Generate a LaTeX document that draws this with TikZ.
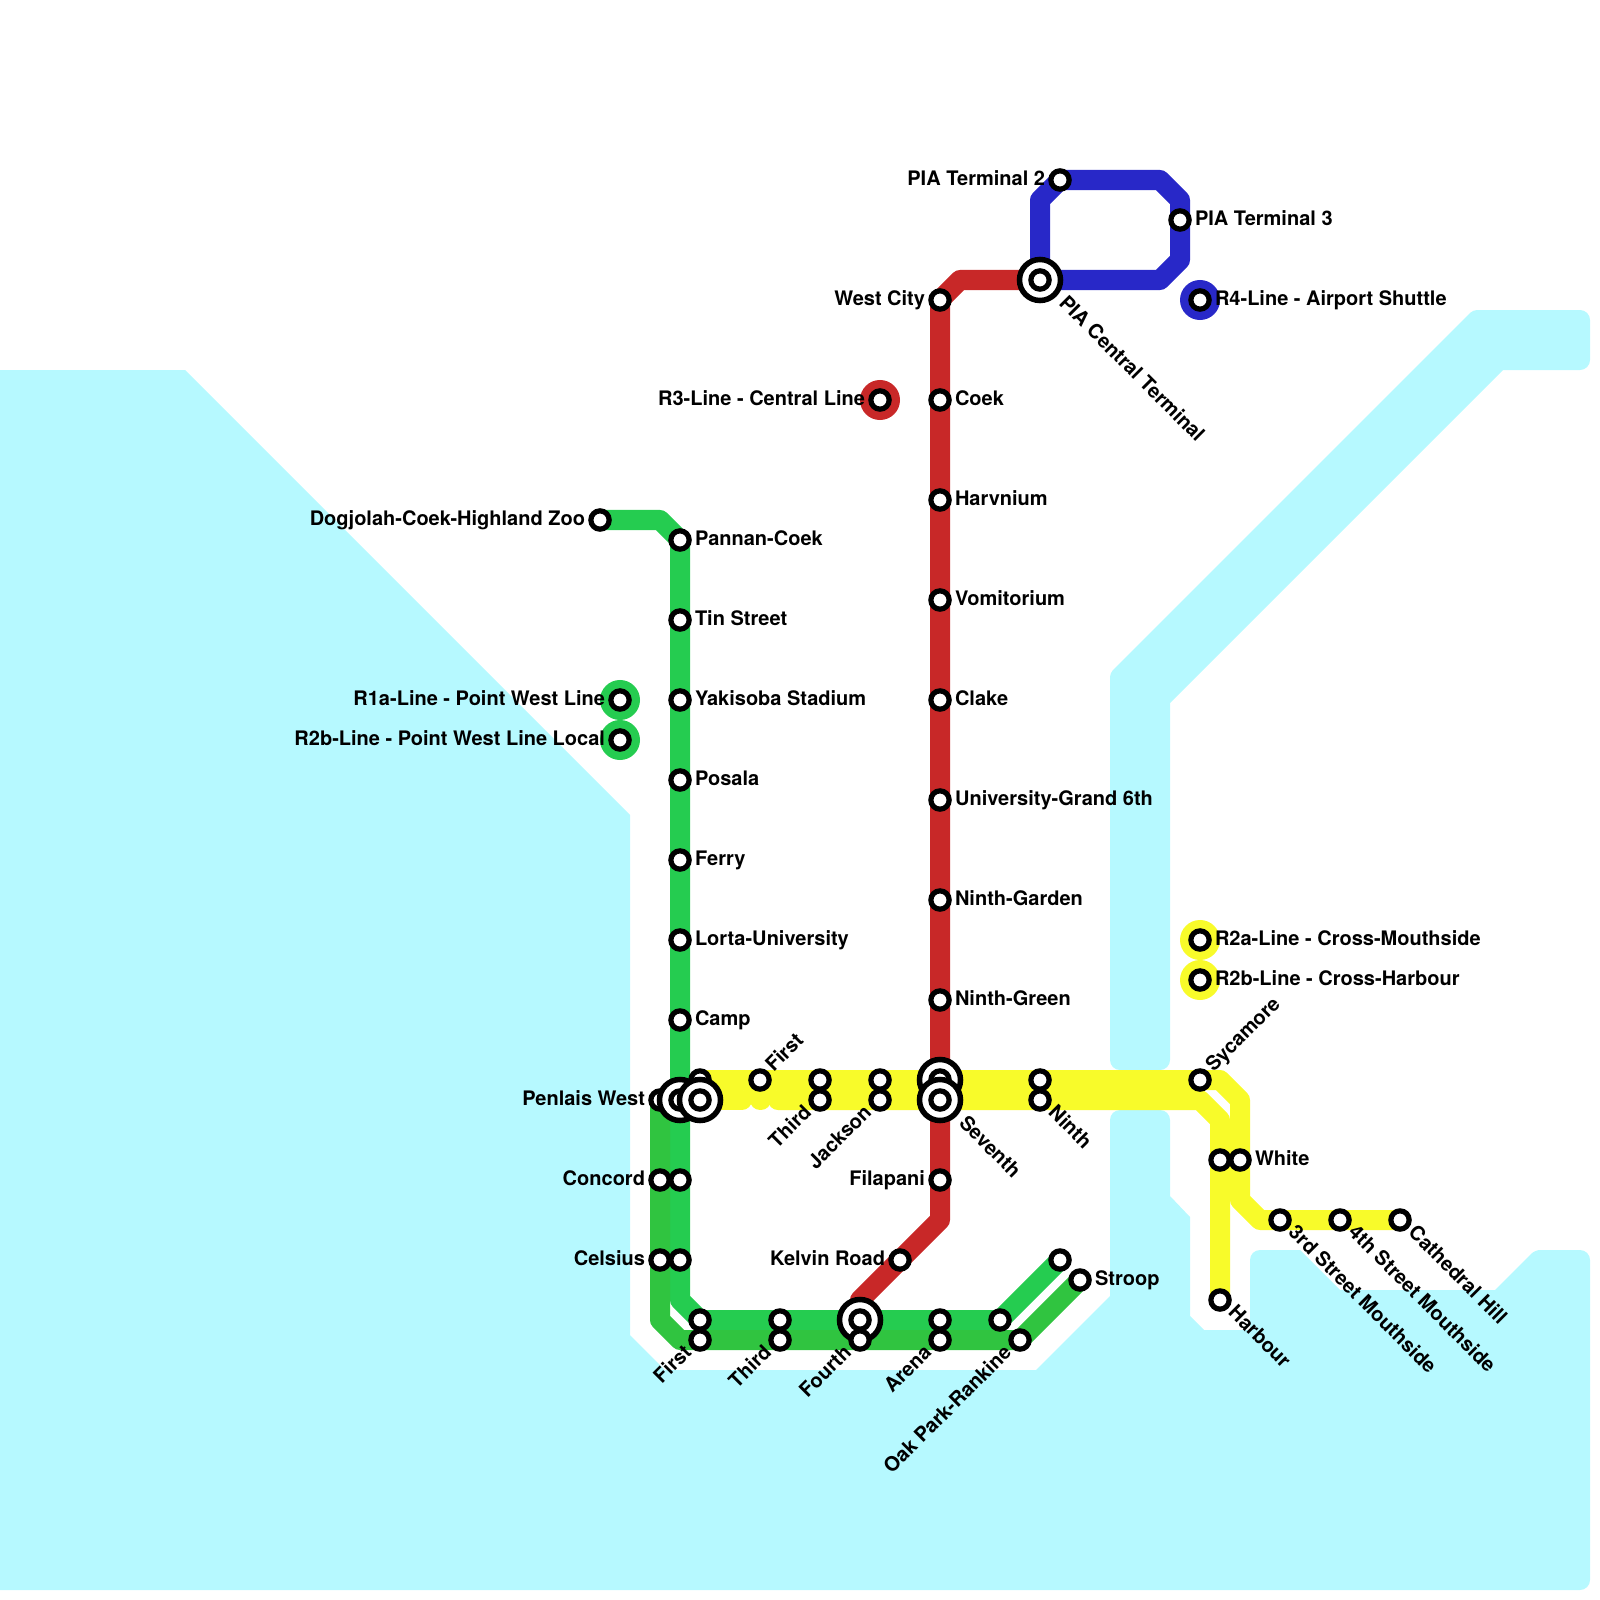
\documentclass[tikz,border=0pt]{standalone}
\usepackage{fontspec}
\setmainfont{TeX Gyre Heros}
\usetikzlibrary{backgrounds}

\definecolor{water}{HTML}{B6F9FF}
\definecolor{lineGreenA}{HTML}{25CC50}
\definecolor{lineGreenB}{HTML}{30C440}
\definecolor{lineYellow}{HTML}{F8FB2A}
\definecolor{lineRed}{HTML}{C82828}
\definecolor{lineBlue}{HTML}{2828C8}

\begin{document}
\begin{tikzpicture}[
    x=0.01cm, y=-0.01cm,
    font=\fontsize{5.69pt}{6.8pt}\selectfont\bfseries,
    stn/.style={circle, draw=black, fill=white, line width=0.052cm, minimum size=0.183cm, inner sep=0pt},
    hub/.style={circle, draw=black, fill=white, line width=0.055cm, minimum size=0.41cm, inner sep=0pt},
    legdot/.style={circle, fill=#1, minimum size=0.4cm, inner sep=0pt},
    lbl/.style={inner sep=0pt, outer sep=0pt},
    lblright/.style={lbl, anchor=base west, xshift=0.15cm, yshift=-0.055cm},
    lblleft/.style={lbl, anchor=base east, xshift=-0.15cm, yshift=-0.055cm},
    lblup/.style={lbl, rotate=45, anchor=base west, xshift=0.15cm, yshift=-0.045cm},
    lbldown/.style={lbl, rotate=45, anchor=base east, xshift=-0.15cm, yshift=-0.045cm},
    lblse/.style={lbl, rotate=-45, anchor=base west, xshift=0.15cm, yshift=-0.045cm},
    metro/.style={line width=0.2cm, line cap=round, line join=round},
    greenA/.style={metro, draw=lineGreenA},
    greenB/.style={metro, draw=lineGreenB},
    yellowline/.style={metro, draw=lineYellow},
    redline/.style={metro, draw=lineRed},
    blueline/.style={metro, draw=lineBlue}
]
\useasboundingbox (0,0) rectangle (1600,1600);

% =========================================================
% Legend dots
% =========================================================
\foreach \st/\x/\y/\col in {legRtwo/880/400/lineRed, legRone/620/700/lineGreenA, legRtb/620/740/lineGreenA,
    legRfour/1200/300/lineBlue, legYa/1200/940/lineYellow, legYb/1200/980/lineYellow} {
    \node[legdot=\col] (\st) at (\x,\y) {};
}

% =========================================================
% Stops without a label
% =========================================================
\foreach \st/\x/\y in {concordB/680/1180, celsiusB/680/1260, firstT/700/1320, thirdT/780/1320,
    arenaT/940/1320, oakT/1000/1320, stroopT/1060/1260, thirdY/820/1080, jacksonY/880/1080,
    ninthY/1040/1080, whiteB/1220/1160} {
    \node[stn] (\st) at (\x,\y) {};
}

% =========================================================
% Labelled stops, by the side of their text
% =========================================================
\foreach \st/\x/\y/\txt in {pannan/680/540/Pannan-Coek, tin/680/620/Tin Street, yakisoba/680/700/Yakisoba Stadium,
    posala/680/780/Posala, ferry/680/860/Ferry, lorta/680/940/Lorta-University, camp/680/1020/Camp,
    stroop/1080/1280/Stroop, coek/940/400/Coek, harvnium/940/500/Harvnium, vomitorium/940/600/Vomitorium,
    clake/940/700/Clake, university/940/800/University-Grand 6th, ninthgarden/940/900/Ninth-Garden,
    ninthgreen/940/1000/Ninth-Green, terminalC/1180/220/PIA Terminal 3, white/1240/1160/White,
    keyRfour/1200/300/R4-Line - Airport Shuttle, keyYa/1200/940/R2a-Line - Cross-Mouthside,
    keyYb/1200/980/R2b-Line - Cross-Harbour} {
    \node[stn] (\st) at (\x,\y) {};
    \node[lblright] (\st-lbl) at (\st.center) {\txt};
}

\foreach \st/\x/\y/\txt in {dogjolah/600/520/Dogjolah-Coek-Highland Zoo, penlais/660/1100/Penlais West,
    concord/660/1180/Concord, celsius/660/1260/Celsius, westcity/940/300/West City, filapani/940/1180/Filapani,
    kelvin/900/1260/Kelvin Road, terminalB/1060/180/PIA Terminal 2, keyRtwo/880/400/R3-Line - Central Line,
    keyRone/620/700/R1a-Line - Point West Line, keyRtb/620/740/R2b-Line - Point West Line Local} {
    \node[stn] (\st) at (\x,\y) {};
    \node[lblleft] (\st-lbl) at (\st.center) {\txt};
}

\foreach \st/\x/\y/\txt in {firstY/760/1080/First, sycamore/1200/1080/Sycamore} {
    \node[stn] (\st) at (\x,\y) {};
    \node[lblup] (\st-lbl) at (\st.center) {\txt};
}

\foreach \st/\x/\y/\txt in {thirdL/820/1100/Third, jackson/880/1100/Jackson, firstB/700/1340/First,
    thirdB/780/1340/Third, arenaB/940/1340/Arena, oakpark/1020/1340/Oak Park-Rankine} {
    \node[stn] (\st) at (\x,\y) {};
    \node[lbldown] (\st-lbl) at (\st.center) {\txt};
}

\foreach \st/\x/\y/\txt in {ninth/1040/1100/Ninth, harbour/1220/1300/Harbour, street/1280/1220/3rd Street Mouthside,
    streetB/1340/1220/4th Street Mouthside, cathedral/1400/1220/Cathedral Hill} {
    \node[stn] (\st) at (\x,\y) {};
    \node[lblse] (\st-lbl) at (\st.center) {\txt};
}

% =========================================================
% Interchanges, back to front
% =========================================================
\node[hub] (penlaisB) at (680,1100) {};
\node[stn] (penlaisB-in) at (penlaisB.center) {};
\node[stn] (firstA) at (700,1080) {};
\node[hub] (firstH) at (700,1100) {};
\node[stn] (firstH-in) at (firstH.center) {};

\node[hub] (fourthT) at (860,1320) {};
\node[stn] (fourthT-in) at (fourthT.center) {};
\node[stn] (fourth) at (860,1340) {};
\node[lbldown] (fourth-lbl) at (fourth.center) {Fourth};

\node[hub] (seventhT) at (940,1080) {};
\node[stn] (seventhT-in) at (seventhT.center) {};
\node[hub] (seventh) at (940,1100) {};
\node[stn] (seventh-in) at (seventh.center) {};
\node[lblse, xshift=0.15cm] (seventh-lbl) at (seventh.center) {Seventh};

\node[hub] (piacentral) at (1040,280) {};
\node[stn] (piacentral-in) at (piacentral.center) {};
\node[lblse, xshift=0.15cm] (piacentral-lbl) at (piacentral.center) {PIA Central Terminal};

% =========================================================
% Water and lines, under the stops
% =========================================================
\begin{pgfonlayer}{background}
\fill[water] (0,370) -- (185,370) -- (630,815) -- (630,1335) -- (665,1370) -- (1036,1370)
    -- (1110,1296) [rounded corners=0.1cm] -- (1110,1110) -- (1170,1110) [sharp corners] -- (1170,1196) -- (1190,1217)
    -- (1190,1316) -- (1204,1330) -- (1250,1330) [rounded corners=0.1cm] -- (1250,1250) [sharp corners] -- (1300,1250)
    -- (1340,1290) -- (1495,1290) [rounded corners=0.05cm] -- (1535,1250) [rounded corners=0.1cm] -- (1590,1250)
    -- (1590,1590) [sharp corners] -- (0,1590) -- cycle;
\fill[water] (1110,1000) [rounded corners=0.04cm] -- (1110,673) -- (1473,310)
    [rounded corners=0.1cm] -- (1590,310) -- (1590,370) [sharp corners] -- (1503,370) -- (1170,703)
    [rounded corners=0.1cm] -- (1170,1070) -- (1110,1070) -- cycle;

% Yellow
\draw[yellowline] (firstA.center) -- (firstY.center) -- (thirdY.center) -- (jacksonY.center) -- (seventhT.center)
    -- (ninthY.center) -- (sycamore.center) -- ++(20,0) -- ++(20,20) -- (white.center) -- ++(0,40) -- ++(20,20)
    -- (street.center) -- (streetB.center) -- (cathedral.center);
\draw[yellowline] (firstH.center) -- ++(42,0);
\draw[yellowline] (firstH.center) ++(60,0) -- ++(1,0);
\draw[yellowline, line width=0.1cm] (firstH.center) ++(44,-5) -- ++(32,0);
\draw[yellowline] (thirdL.center) ++(-42,0) -- (thirdL.center) -- (jackson.center) -- (seventh.center)
    -- (ninth.center) -- ++(160,0) -- (whiteB.center |- 0,1120) -- (whiteB.center) -- (harbour.center);

% Red
\draw[redline] (piacentral.center) -- ++(-80,0) -- (westcity.center) -- (coek.center) -- (harvnium.center)
    -- (vomitorium.center) -- (clake.center) -- (university.center) -- (ninthgarden.center) -- (ninthgreen.center)
    -- (seventhT.center) -- (seventh.center) -- (filapani.center) -- ++(0,40) -- (kelvin.center) -- ++(-40,40)
    -- (fourthT.center);

% Blue
\draw[blueline] (piacentral.center) -- ++(0,-80) -- (terminalB.center) -- ++(100,0) -- ++(20,20)
    -- (terminalC.center) -- ++(0,40) -- ++(-20,20) -- cycle;

% Green
\draw[greenA] (dogjolah.center) -- ++(60,0) -- (pannan.center) -- (tin.center) -- (yakisoba.center) -- (posala.center)
    -- (ferry.center) -- (lorta.center) -- (camp.center) -- (penlaisB.center) -- (concordB.center) -- (celsiusB.center)
    -- ++(0,40) -- (firstT.center) -- (thirdT.center) -- (fourthT.center) -- (arenaT.center) -- (oakT.center)
    -- (stroopT.center);
\draw[greenB] (penlais.center) -- (concord.center) -- (celsius.center) -- ++(0,60) -- ++(20,20) -- (firstB.center)
    -- (thirdB.center) -- (fourth.center) -- (arenaB.center) -- (oakpark.center) -- (stroop.center);
\end{pgfonlayer}

\end{tikzpicture}
\end{document}
